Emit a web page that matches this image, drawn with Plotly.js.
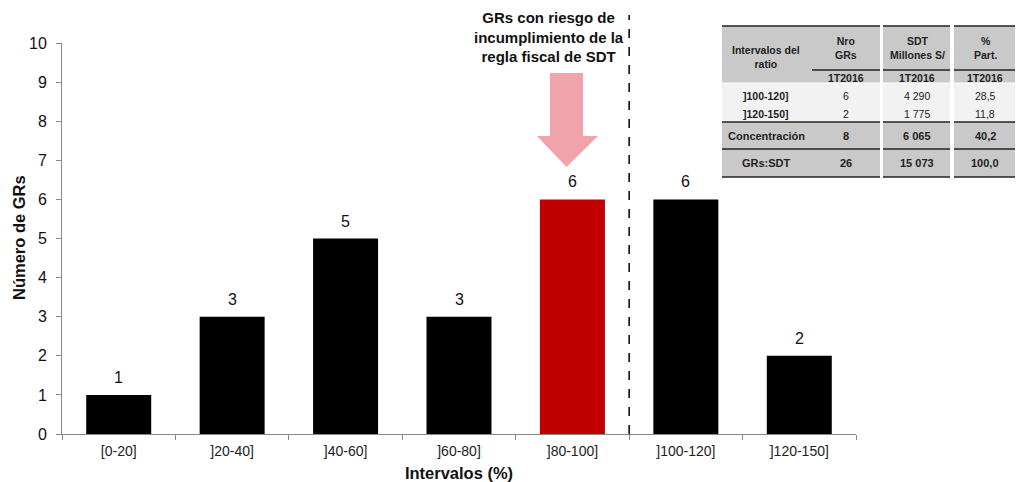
<!DOCTYPE html>
<html><head><meta charset="utf-8">
<script src="https://cdn.plot.ly/plotly-3.0.1.min.js"></script>
<style>html,body{margin:0;padding:0;background:#fff}#c{width:1022px;height:482px}</style>
</head><body><div id="c"></div>
<script>
const categories = ['[0-20]', ']20-40]', ']40-60]', ']60-80]', ']80-100]', ']100-120]', ']120-150]'];
const counts = [1, 3, 5, 3, 6, 6, 2];
const highlightCategory = ']80-100]';
const calloutText = 'GRs con riesgo de<br>incumplimiento de la<br>regla fiscal de SDT';
const tableHeaders = ['Intervalos del<br>ratio', 'Nro<br>GRs', 'SDT<br>Millones S/', '%<br>Part.'];
const tablePeriod = '1T2016';
const tableRowLabels = [']100-120]', ']120-150]', 'Concentración', 'GRs:SDT'];
const tableNroGRs = ['6', '2', '8', '26'];
const tableSDT = ['4 290', '1 775', '6 065', '15 073'];
const tablePart = ['28,5', '11,8', '40,2', '100,0'];

const W = 1022, H = 482, L = 62, R = 856, T = 43, B = 434;
const px = x => (x - L) / (R - L);
const py = y => (B - y) / (B - T);
const FONT = 'Liberation Sans, Arial, sans-serif';
const NARROW = 'Liberation Sans Narrow, Liberation Sans, Arial, sans-serif';

const colors = categories.map(c => c === highlightCategory ? '#c00000' : '#000000');

const trace = {
  type: 'bar', x: categories, y: counts, marker: {color: colors, line: {width: 0}},
  hoverinfo: 'skip'
};

const shapes = [];
const annotations = [];

// bar value labels
categories.forEach((c, i) => annotations.push({xref: 'x', yref: 'y', x: c, y: counts[i],
  text: String(counts[i]), showarrow: false, xanchor: 'center', yanchor: 'bottom', yshift: 7,
  font: {family: FONT, size: 16, color: '#111'}}));

// dashed separator
shapes.push({type: 'line', xref: 'x', yref: 'paper', x0: 4.5, x1: 4.5, y0: 0, y1: py(15),
  line: {color: '#000', width: 1.5, dash: 'dash'}});

// arrow
const ax = [550, 583, 583, 598, 566.5, 537, 550];
const ay = [73, 73, 136, 136, 167, 136, 136];
let path = 'M ' + ax.map((v, i) => px(v) + ' ' + py(ay[i])).join(' L ') + ' Z';
shapes.push({type: 'path', xref: 'paper', yref: 'paper', path: path,
  fillcolor: 'rgba(236,140,146,0.8)', line: {width: 0}});

annotations.push({xref: 'paper', yref: 'paper', x: px(549), y: py(37), text: '<b>' + calloutText + '</b>',
  showarrow: false, align: 'center', xanchor: 'center', yanchor: 'middle',
  font: {family: FONT, size: 15, color: '#111'}});

// table
const groups = [[722, 880], [883, 950], [954, 1015]];
const rowBands = [
  [26, 83, '#c9c9c9'], [83, 122, '#f2f2f2'], [122, 149, '#c9c9c9'], [149, 177, '#c9c9c9']
];
groups.forEach(g => {
  rowBands.forEach(b => shapes.push({type: 'rect', xref: 'paper', yref: 'paper',
    x0: px(g[0]), x1: px(g[1]), y0: py(b[1]), y1: py(b[0]), fillcolor: b[2], line: {width: 0}, layer: 'below'}));
  [26, 122, 149, 177].forEach(y => shapes.push({type: 'line', xref: 'paper', yref: 'paper',
    x0: px(g[0]), x1: px(g[1]), y0: py(y), y1: py(y), line: {color: '#222', width: 1.5}}));
});
[[812, 880], [883, 950], [954, 1015]].forEach(g => shapes.push({type: 'line', xref: 'paper', yref: 'paper',
  x0: px(g[0]), x1: px(g[1]), y0: py(70), y1: py(70), line: {color: '#222', width: 1.5}}));
groups.forEach(g => shapes.push({type: 'line', xref: 'paper', yref: 'paper',
  x0: px(g[0]), x1: px(g[1]), y0: py(83), y1: py(83), line: {color: '#ffffff', width: 1}}));

const colX = [766, 846, 917, 985];
const headY = [57, 48, 48, 48];
tableHeaders.forEach((h, i) => annotations.push({xref: 'paper', yref: 'paper', x: px(colX[i]), y: py(headY[i]),
  text: '<b>' + h + '</b>', showarrow: false, xanchor: 'center', yanchor: 'middle', align: 'center',
  font: {family: FONT, size: 10.5, color: '#222'}}));
for (let i = 1; i < 4; i++) annotations.push({xref: 'paper', yref: 'paper', x: px(colX[i]), y: py(77.5),
  text: '<b>' + tablePeriod + '</b>', showarrow: false, xanchor: 'center', yanchor: 'middle',
  font: {family: FONT, size: 10.5, color: '#222'}});
const rowY = [96, 114, 136, 163];
tableRowLabels.forEach((lab, r) => {
  const bold = r >= 2;
  const vals = [lab, tableNroGRs[r], tableSDT[r], tablePart[r]];
  vals.forEach((v, c) => {
    const b = (c === 0) || bold;
    annotations.push({xref: 'paper', yref: 'paper', x: px(colX[c]), y: py(rowY[r]),
      text: b ? '<b>' + v + '</b>' : v, showarrow: false, xanchor: 'center', yanchor: 'middle',
      font: {family: FONT, size: r < 2 ? 10.5 : 11, color: '#222'}});
  });
});

// y-axis title as annotation for exact placement
annotations.push({xref: 'paper', yref: 'paper', x: px(19), y: py(238), text: '<b>Número de GRs</b>',
  textangle: -90, showarrow: false, xanchor: 'center', yanchor: 'middle',
  font: {family: FONT, size: 16.5, color: '#111'}});

const layout = {
  width: W, height: H, margin: {l: L, r: W - R, t: T, b: H - B, pad: 0},
  paper_bgcolor: '#fff', plot_bgcolor: '#fff', showlegend: false, bargap: 0.427,
  font: {family: FONT, color: '#111'},
  xaxis: {type: 'category', showgrid: false, zeroline: false, showline: true, linecolor: '#888', linewidth: 1,
    ticks: 'outside', tickson: 'boundaries', ticklen: 5, tickcolor: '#888', ticklabelstandoff: 4,
    tickfont: {family: NARROW, size: 14, color: '#222'},
    title: {text: '<b>Intervalos (%)</b>', font: {family: FONT, size: 16.5, color: '#111'}, standoff: 10}},
  yaxis: {range: [0, 10], dtick: 1, showgrid: false, zeroline: false, showline: true, linecolor: '#888', linewidth: 1,
    ticks: 'outside', ticklen: 5, tickcolor: '#888', ticklabelstandoff: 6, tickfont: {family: FONT, size: 16, color: '#111'}},
  shapes: shapes, annotations: annotations
};
Plotly.newPlot('c', [trace], layout, {staticPlot: true, displayModeBar: false});
</script></body></html>
